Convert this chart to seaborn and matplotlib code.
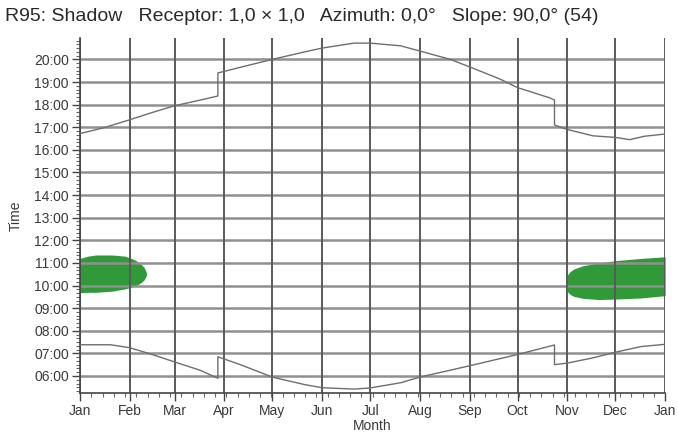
import numpy as np
import pandas as pd
import matplotlib
matplotlib.use("Agg")
import matplotlib.pyplot as plt
from matplotlib.ticker import FixedLocator, MultipleLocator
import seaborn as sns

# day of year -> hour of day
sunset_day = [0, 15, 31, 45, 59, 75, 86, 86, 100, 120, 140, 151, 171, 181, 200, 212, 231, 243, 262, 273, 293, 296, 296, 304, 320, 334, 343, 352, 365]
sunset_hr = [16.72, 16.98, 17.33, 17.65, 17.95, 18.2, 18.38, 19.4, 19.65, 20.0, 20.33, 20.5, 20.72, 20.72, 20.6, 20.37, 20.0, 19.67, 19.13, 18.75, 18.3, 18.2, 17.1, 16.9, 16.62, 16.55, 16.45, 16.6, 16.7]

sunrise_day = [0, 19, 31, 45, 59, 75, 86, 86, 100, 120, 140, 151, 171, 181, 200, 212, 243, 273, 296, 296, 304, 320, 334, 350, 365]
sunrise_hr = [7.38, 7.38, 7.25, 6.95, 6.62, 6.25, 5.9, 6.85, 6.5, 5.95, 5.62, 5.48, 5.42, 5.47, 5.7, 5.95, 6.45, 6.95, 7.37, 6.5, 6.57, 6.8, 7.05, 7.3, 7.4]

# shadow periods
shadow1_day = [0, 5, 10, 20, 28, 32, 35, 38, 40, 41, 41.6]
shadow1_top = [11.2, 11.3, 11.35, 11.35, 11.3, 11.2, 11.1, 10.95, 10.8, 10.65, 10.5]
shadow1_bot = [9.68, 9.7, 9.7, 9.75, 9.85, 9.92, 10.0, 10.12, 10.25, 10.38, 10.5]

shadow2_day = [302.8, 303.3, 304.2, 305.5, 308, 314, 324, 334, 350, 365]
shadow2_top = [10.1, 10.3, 10.48, 10.6, 10.73, 10.88, 11.0, 11.1, 11.2, 11.27]
shadow2_bot = [10.1, 9.88, 9.72, 9.62, 9.52, 9.43, 9.38, 9.4, 9.45, 9.55]

month_start = [0, 31, 59, 90, 120, 151, 181, 212, 243, 273, 304, 334, 365]
month_lbl = ["Jan", "Feb", "Mar", "Apr", "May", "Jun", "Jul", "Aug", "Sep", "Oct", "Nov", "Dec", "Jan"]
hours = list(range(6, 21))

sns.set_style("white")
plt.rcParams['font.family'] = ['Liberation Sans', 'DejaVu Sans']

fig = plt.figure(figsize=(6.78, 4.46), dpi=100)
ax = fig.add_axes([0.118, 0.119, 0.863, 0.796])

sunset = pd.DataFrame({"day": sunset_day, "hr": sunset_hr})
sunrise = pd.DataFrame({"day": sunrise_day, "hr": sunrise_hr})

ax.fill_between(shadow1_day, shadow1_bot, shadow1_top, color="#2f9a37", lw=0, zorder=1)
ax.fill_between(shadow2_day, shadow2_bot, shadow2_top, color="#2f9a37", lw=0, zorder=1)

for h in hours:
    ax.axhline(h, color="#909090", lw=1.8, zorder=2)
for m in month_start:
    ax.axvline(m, color="#5a5a5a", lw=1.4, zorder=2)

sns.lineplot(data=sunset, x="day", y="hr", ax=ax, sort=False, estimator=None, color="#6e6e6e", lw=1.0, zorder=3)
sns.lineplot(data=sunrise, x="day", y="hr", ax=ax, sort=False, estimator=None, color="#6e6e6e", lw=1.0, zorder=3)

ax.set_xlim(0, 365)
ax.set_ylim(5.25, 20.95)
ax.xaxis.set_major_locator(FixedLocator(month_start))
ax.set_xticklabels(month_lbl)
ax.xaxis.set_minor_locator(MultipleLocator(365 / 52.0))
ax.yaxis.set_major_locator(FixedLocator(hours))
ax.set_yticklabels(["%02d:00" % h for h in hours])
ax.yaxis.set_minor_locator(MultipleLocator(1 / 6.0))

for s in ["top", "right"]:
    ax.spines[s].set_visible(False)
for s in ["left", "bottom"]:
    ax.spines[s].set_color("#444444")
    ax.spines[s].set_linewidth(1.2)

ax.tick_params(which="major", length=6, width=1, color="#444444", labelsize=10, labelcolor="#3a3a3a", pad=2, left=True, bottom=True)
ax.tick_params(which="minor", length=3, width=0.8, color="#666666", left=True, bottom=True)

ax.set_xlabel("Month", fontsize=10, color="#3a3a3a", labelpad=1)
ax.set_ylabel("Time", fontsize=10, color="#3a3a3a", labelpad=8)

fig.text(0.007, 0.962, "R95: Shadow   Receptor: 1,0 \u00d7 1,0   Azimuth: 0,0\u00b0   Slope: 90,0\u00b0 (54)",
         fontsize=14, color="#2a2a2a", ha="left", va="center")

fig.savefig("out.png", dpi=100)
